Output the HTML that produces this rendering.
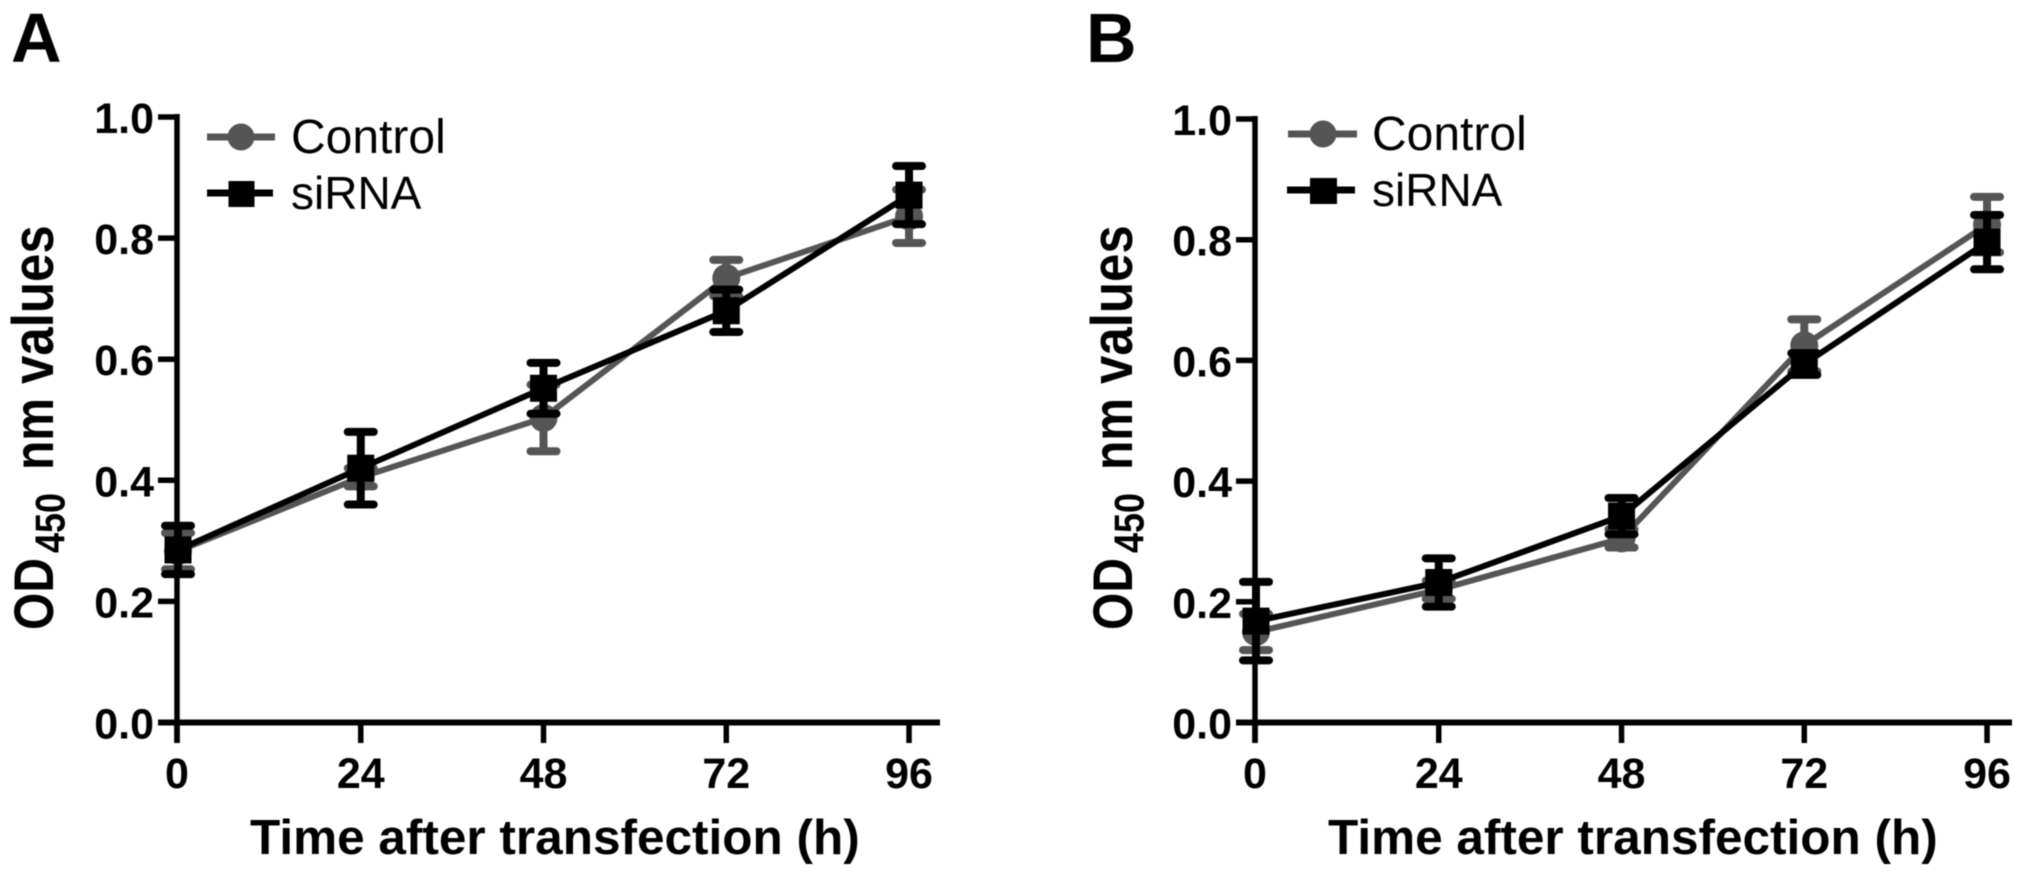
<!DOCTYPE html>
<html lang="en">
<head>
<meta charset="utf-8">
<title>OD450 growth curves</title>
<style>
html,body{margin:0;padding:0;background:#fff;width:2031px;height:876px;overflow:hidden}
svg{display:block;filter:blur(.6px)}
text{font-family:"Liberation Sans",sans-serif;fill:#000}
.b{font-weight:bold}
</style>
</head>
<body>
<svg id="figure" xmlns="http://www.w3.org/2000/svg" width="2031" height="876" viewBox="0 0 2031 876">
  <rect width="2031" height="876" fill="#fff"/>
  <text class="b" x="11" y="62" font-size="70">A</text>
  <text class="b" x="1086" y="62" font-size="70">B</text>

  <g id="panel-a"></g>
  <g id="panel-b"></g>

  <g transform="translate(53,630) rotate(-90) scale(1,1.15)">
    <text class="b" font-size="48"><tspan x="0">OD</tspan><tspan x="77" dy="10" font-size="36">450</tspan><tspan x="160" dy="-10">nm</tspan><tspan x="246" font-size="51">values</tspan></text>
  </g>
  <g transform="translate(1132,630) rotate(-90) scale(1,1.15)">
    <text class="b" font-size="48"><tspan x="0">OD</tspan><tspan x="77" dy="10" font-size="36">450</tspan><tspan x="160" dy="-10">nm</tspan><tspan x="246" font-size="51">values</tspan></text>
  </g>
  <text class="b" x="250" y="854" font-size="49.5">Time after transfection (h)</text>
  <text class="b" x="1328" y="854" font-size="49.5">Time after transfection (h)</text>

  <g>
    <line x1="207" x2="275" y1="137" y2="137" stroke="#555" stroke-width="7"/>
    <circle cx="241" cy="137" r="13.5" fill="#555"/>
    <text x="291" y="153" font-size="48">Control</text>
    <line x1="207" x2="273" y1="193" y2="193" stroke="#000" stroke-width="7"/>
    <rect x="228.500" y="181" width="26" height="26" fill="#000"/>
    <text x="291" y="209" font-size="46">siRNA</text>
  </g>
  <g>
    <line x1="1288" x2="1357" y1="134" y2="134" stroke="#555" stroke-width="7"/>
    <circle cx="1323" cy="134" r="13.5" fill="#555"/>
    <text x="1372" y="150" font-size="48">Control</text>
    <line x1="1287" x2="1355" y1="190" y2="190" stroke="#000" stroke-width="7"/>
    <rect x="1310" y="178" width="27" height="26" fill="#000"/>
    <text x="1372" y="206" font-size="46">siRNA</text>
  </g>
</svg>
<script>
// Shared axis data
const timePoints = [0, 24, 48, 72, 96];
const yTicks = [0, 0.2, 0.4, 0.6, 0.8, 1.0];
const yTickLabels = ['0.0', '0.2', '0.4', '0.6', '0.8', '1.0'];
const xTickLabels = ['0', '24', '48', '72', '96'];

// Panel A values
const panelAControl = [0.283, 0.405, 0.503, 0.734, 0.836];
const panelAControlErr = [0.030, 0.015, 0.055, 0.030, 0.044];
const panelASirna = [0.285, 0.420, 0.552, 0.680, 0.871];
const panelASirnaErr = [0.040, 0.060, 0.042, 0.035, 0.048];

// Panel B values
const panelBControl = [0.150, 0.220, 0.305, 0.625, 0.825];
const panelBControlErr = [0.030, 0.015, 0.015, 0.043, 0.046];
const panelBSirna = [0.168, 0.232, 0.342, 0.594, 0.796];
const panelBSirnaErr = [0.065, 0.040, 0.030, 0.018, 0.045];

const NS = 'http://www.w3.org/2000/svg';
function mk(parent, tag, attrs) {
  const el = document.createElementNS(NS, tag);
  for (const k in attrs) el.setAttribute(k, attrs[k]);
  parent.appendChild(el);
  return el;
}

function drawSeries(g, xScale, yScale, vals, errs, color, isSquare, seriesName) {
  const pts = vals.map((v, i) => xScale(timePoints[i]) + ',' + yScale(v)).join(' ');
  const line = mk(g, 'polyline', {points: pts, fill: 'none', stroke: color, 'stroke-width': 6, 'stroke-linejoin': 'round'});
  
  
  vals.forEach((v, i) => {
    const x = xScale(timePoints[i]);
    const hi = yScale(v + errs[i]);
    const lo = yScale(v - errs[i]);
    const stem = mk(g, 'line', {x1: x, x2: x, y1: hi, y2: lo, stroke: color, 'stroke-width': 8});
    
    
    [hi, lo].forEach(capY => {
      const cap = mk(g, 'line', {x1: x - 13, x2: x + 13, y1: capY, y2: capY, stroke: color, 'stroke-width': 8, 'stroke-linecap': 'round'});
      
      
    });
    const y = yScale(v);
    const marker = isSquare
      ? mk(g, 'rect', {x: x - 13.5, y: y - 13.5, width: 27, height: 27, fill: color})
      : mk(g, 'circle', {cx: x, cy: y, r: 14, fill: color});
    
    
  });
}

function drawPanel(id, axisX, xEnd, yUnit, control, controlErr, sirna, sirnaErr) {
  const g = document.getElementById(id);
  const xScale = t => axisX + 1 + t * 7.615;
  const yScale = v => 722.5 - yUnit * v;

  const yAxis = mk(g, 'line', {x1: axisX, x2: axisX, y1: yScale(1) - 3, y2: 743, stroke: '#000', 'stroke-width': 5.5});
  
  
  const xAxis = mk(g, 'line', {x1: axisX - 19, x2: xEnd, y1: yScale(0), y2: yScale(0), stroke: '#000', 'stroke-width': 6});
  
  

  yTicks.forEach((v, i) => {
    const tick = mk(g, 'line', {x1: axisX - 19, x2: axisX, y1: yScale(v), y2: yScale(v), stroke: '#000', 'stroke-width': 5.5});
    
    
    const label = mk(g, 'text', {x: axisX - 23, y: yScale(v) + 16, 'text-anchor': 'end', 'font-size': 43, 'font-weight': 'bold'});
    label.textContent = yTickLabels[i];
    
    
  });

  timePoints.forEach((t, i) => {
    const x = i === 0 ? axisX : xScale(t);
    const tick = mk(g, 'line', {x1: x, x2: x, y1: yScale(0), y2: 743, stroke: '#000', 'stroke-width': 5.5});
    
    
    const label = mk(g, 'text', {x: x, y: 788, 'text-anchor': 'middle', 'font-size': 43, 'font-weight': 'bold'});
    label.textContent = xTickLabels[i];
    
    
  });

  drawSeries(g, xScale, yScale, control, controlErr, '#555555', false, 'control');
  drawSeries(g, xScale, yScale, sirna, sirnaErr, '#000000', true, 'sirna');
}

drawPanel('panel-a', 177, 940, 605.5, panelAControl, panelAControlErr, panelASirna, panelASirnaErr);
drawPanel('panel-b', 1255, 2012, 603.5, panelBControl, panelBControlErr, panelBSirna, panelBSirnaErr);
</script>
</body>
</html>
